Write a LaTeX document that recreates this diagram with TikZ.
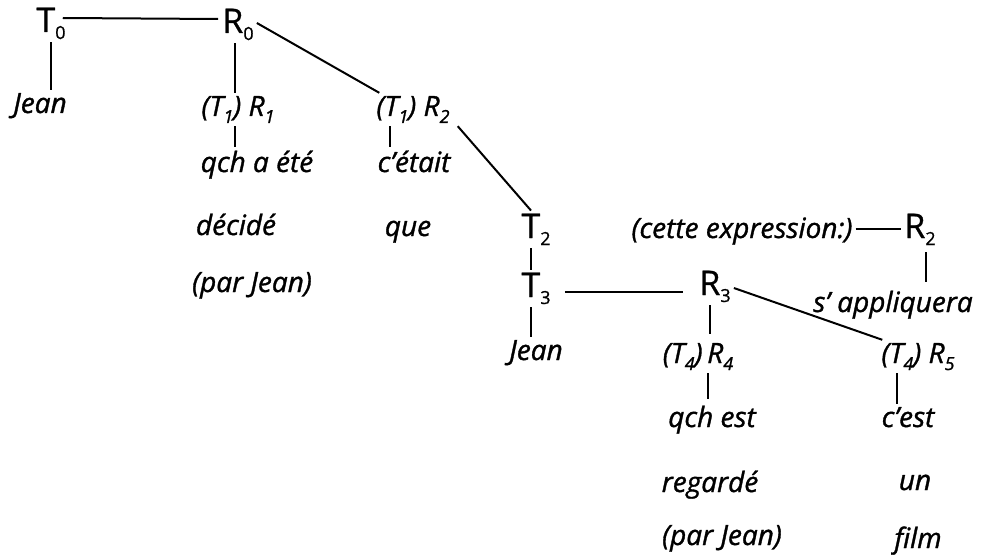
\documentclass[tikz,border=0pt]{standalone}
\usepackage{fontspec}
\setmainfont{Open Sans}[ItalicFeatures={FakeBold=1.2},UprightFeatures={FakeBold=0.8}]
\newcommand\lsub[1]{\raisebox{-7pt}{\fontsize{18}{18}\selectfont #1}}
\begin{document}
\begin{tikzpicture}[x=1pt,y=-1pt,
  wd/.style={font=\fontsize{28}{28}\selectfont\itshape, inner sep=3pt, anchor=base},
  sym/.style={font=\fontsize{34}{34}\selectfont, inner sep=3pt, anchor=base},
  ln/.style={line width=2pt}]
\useasboundingbox (0,0) rectangle (987,556);
% nodes
\node[sym] (T0) at (51,32) {T\lsub{0}};
\node[sym] (R0) at (238,33) {R\lsub{0}};
\node[wd] (J1) at (40,113) {Jean};
\node[wd] (TR1) at (238,116) {(T\lsub{1}) R\lsub{1}};
\node[wd] (TR2) at (413,116) {(T\lsub{1}) R\lsub{2}};
\node[wd] (q1) at (257,172) {qch a été};
\node[wd] (c1) at (414,172) {c'était};
\node[wd] (d1) at (236,235) {décidé};
\node[wd] (que) at (408,236) {que};
\node[wd] (p1) at (252,292) {(par Jean)};
\node[sym] (T2) at (536,238) {T\lsub{2}};
\node[sym] (T3) at (536,297) {T\lsub{3}};
\node[wd] (J2) at (536,360) {Jean};
\node[sym] (R3) at (715,295) {R\lsub{3}};
\node[wd] (ce) at (742,238) {(cette expression:)};
\node[sym] (R2b) at (920,238) {R\lsub{2}};
\node[wd] (sa) at (893,312) {s' appliquera};
\node[wd] (TR4) at (698,363) {(T\lsub{4})\,R\lsub{4}};
\node[wd] (TR5) at (918,363) {(T\lsub{4}) R\lsub{5}};
\node[wd] (q2) at (712,427) {qch est};
\node[wd] (c2) at (908,427) {c'est};
\node[wd] (rg) at (710,492) {regardé};
\node[wd] (un) at (915,490) {un};
\node[wd] (p2) at (722,545) {(par Jean)};
\node[wd] (film) at (918,548) {film};
% connectors
\draw[ln] ([shift={(-6pt,14pt)}]T0.base east) -- ([shift={(-1pt,14pt)}]R0.base west);
\draw[ln] (T0.south) -- (T0.south |- J1.north);
\draw[ln] ([xshift=-3pt]R0.south) -- ([xshift=-3pt]R0.south |- TR1.north);
\draw[ln] ([yshift=10pt]R0.base east) -- ([xshift=6pt]TR2.north west);
\draw[ln] ([xshift=-3pt]TR1.south) -- ([xshift=-3pt]TR1.south |- q1.north);
\draw[ln] ([xshift=-23pt]TR2.south) -- ([xshift=-23pt]TR2.south |- c1.north);
\draw[ln] ([xshift=5pt]TR2.south east) -- ([xshift=-5pt]T2.north);
\draw[ln] ([xshift=-5pt]T2.south) -- ([xshift=-5pt]T2.south |- T3.north);
\draw[ln] ([xshift=-5pt]T3.south) -- ([xshift=-5pt]T3.south |- J2.north);
\draw[ln,shorten <=11pt,shorten >=13pt] ([yshift=5pt]T3.base east) -- ([yshift=5pt]T3.base east -| R3.west);
\draw[ln,shorten >=6pt] ([xshift=-5pt]R3.south) -- ([xshift=-5pt]R3.south |- TR4.north);
\draw[ln] ([yshift=7pt]R3.base east) -- ([xshift=4pt]TR5.north west);
\draw[ln] ([yshift=9pt]ce.base east) -- ([yshift=9pt]ce.base east -| R2b.west);
\draw[ln,shorten <=4pt,shorten >=6pt] ([xshift=6pt]R2b.south) -- ([xshift=6pt]R2b.south |- sa.north);
\draw[ln,shorten >=4pt] ([xshift=10pt]TR4.south) -- ([xshift=10pt]TR4.south |- q2.north);
\draw[ln] ([xshift=-21pt]TR5.south) -- ([xshift=-21pt]TR5.south |- c2.north);
\end{tikzpicture}
\end{document}
